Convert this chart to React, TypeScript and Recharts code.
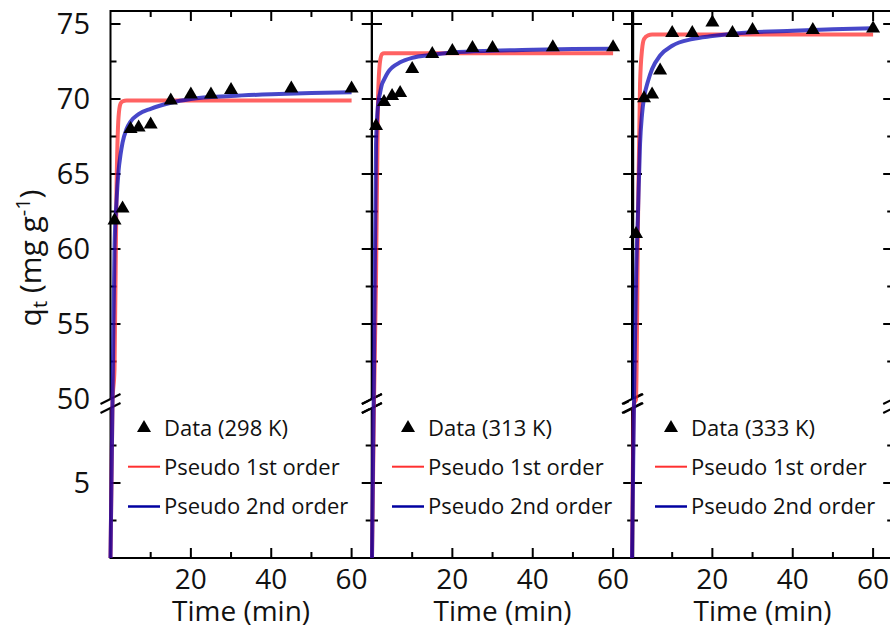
import React from "react";
import {
  ComposedChart,
  Line,
  Scatter,
  XAxis,
  YAxis,
  ZAxis,
  Legend,
  Symbols,
} from "recharts";

const FONT = "'Open Sans', 'Noto Sans', sans-serif";

// sampling times (min) and measured q_t (mg/g)
const obsTime = [1, 3, 5, 7, 10, 15, 20, 25, 30, 45, 60];
const obs298 = [61.9, 62.7, 68.0, 68.1, 68.3, 69.9, 70.3, 70.3, 70.6, 70.7, 70.7];
const obs313 = [68.2, 69.8, 70.2, 70.4, 72.0, 73.0, 73.2, 73.4, 73.4, 73.45, 73.45];
const obs333 = [61.0, 70.05, 70.3, 71.9, 74.4, 74.4, 75.1, 74.4, 74.6, 74.6, 74.7];

// fitted model curves
const fitTime = [0, 0.5, 1, 1.5, 2, 2.5, 3, 4, 5, 7, 10, 15, 20, 30, 40, 50, 60];
const pfo298 = [0, 35, 52, 64, 68.8, 69.7, 69.85, 69.9, 69.9, 69.9, 69.9, 69.9, 69.9, 69.9, 69.9, 69.9, 69.9];
const pso298 = [0, 45, 60, 63.2, 65.2, 66.3, 67.1, 68.0, 68.5, 69.0, 69.35, 69.75, 70.0, 70.2, 70.32, 70.4, 70.45];
const pfo313 = [0, 35, 58, 70, 72.5, 73.0, 73.05, 73.05, 73.05, 73.05, 73.05, 73.05, 73.05, 73.05, 73.05, 73.05, 73.05];
const pso313 = [0, 52, 67, 69.6, 70.4, 71.0, 71.3, 71.8, 72.1, 72.45, 72.75, 72.95, 73.1, 73.22, 73.28, 73.33, 73.36];
const pfo333 = [0, 30, 48, 62, 71, 73.3, 74.0, 74.25, 74.3, 74.3, 74.3, 74.3, 74.3, 74.3, 74.3, 74.3, 74.3];
const pso333 = [0, 42, 58, 62.5, 67, 69, 70.1, 71.2, 72.0, 72.9, 73.55, 74.0, 74.2, 74.45, 74.55, 74.65, 74.72];

const temps = ["298 K", "313 K", "333 K"];
const xTicks = [10, 20, 30, 40, 50, 60];
const xMajor = [20, 40, 60];
const yTicks = [2.5, 5, 7.5, 50, 52.5, 55, 57.5, 60, 62.5, 65, 67.5, 70, 72.5, 75];

// broken y axis: 0-10 below the break, 50-76 above it
const BREAK_LO = 10;
const BREAK_HI = 50;
const GAP = 0.6;
const Y_MAX = 75.87;
const toAxis = (v: number) =>
  v <= BREAK_LO
    ? v
    : v >= BREAK_HI
    ? v - BREAK_HI + BREAK_LO + GAP
    : BREAK_LO + ((v - BREAK_LO) / (BREAK_HI - BREAK_LO)) * GAP;
const yTickPos = yTicks.map(toAxis);

const RED = "#ff2626";
const BLUE = "#0000b4";
const LINE_OPACITY = 0.72;

const PANEL_X = [110.5, 371.7, 631.5];
const PANEL_W = 261.2;
const PLOT_TOP = 11;
const PLOT_BOTTOM = 558;
const CHART_H = 628;
const Y_AXIS_W = 110.5;
const PAD = 4;
const LEGEND_OFF = [17.5, 20, 23.5];
const X_DOMAIN = [0, 65];
const Y_DOMAIN = [0, toAxis(Y_MAX)];

// frame, inward ticks and axis-break marks of one panel (drawn under the chart)
function Frame({ plotLeft, width }: { plotLeft: number; width: number }) {
  const right = plotLeft + PANEL_W;
  const sx = (t: number) => plotLeft + ((t - X_DOMAIN[0]) / (X_DOMAIN[1] - X_DOMAIN[0])) * PANEL_W;
  const sy = (d: number) =>
    PLOT_BOTTOM - ((d - Y_DOMAIN[0]) / (Y_DOMAIN[1] - Y_DOMAIN[0])) * (PLOT_BOTTOM - PLOT_TOP);
  let d = "";
  xTicks.forEach((t) => {
    const len = xMajor.includes(t) ? 10 : 6;
    const x = sx(t);
    d += `M${x},${PLOT_BOTTOM}V${PLOT_BOTTOM - len}M${x},${PLOT_TOP}V${PLOT_TOP + len}`;
  });
  yTicks.forEach((v) => {
    if (v === BREAK_HI) return;
    const len = v % 5 === 0 ? 10 : 6;
    const y = sy(toAxis(v));
    d += `M${plotLeft},${y}H${plotLeft + len}M${right},${y}H${right - len}`;
  });
  const yb = sy(toAxis(BREAK_HI));
  const brk = (x: number) => (
    <g key={x}>
      <path
        d={`M${x - 3},${yb + 1.5}L${x + 3},${yb - 1.5}L${x + 3},${yb + 7.5}L${x - 3},${yb + 10.5}Z`}
        fill="#fff"
      />
      <path
        d={`M${x - 10},${yb + 5}L${x + 10},${yb - 5}M${x - 10},${yb + 14}L${x + 10},${yb + 4}`}
        stroke="#000"
        strokeWidth={2}
        fill="none"
      />
    </g>
  );
  return (
    <svg
      width={width}
      height={CHART_H}
      style={{ position: "absolute", left: 0, top: 0, overflow: "visible" }}
    >
      <path
        d={`M${plotLeft},${PLOT_TOP}H${right}V${PLOT_BOTTOM}H${plotLeft}Z`}
        fill="none"
        stroke="#000"
        strokeWidth={2}
      />
      <path d={d} fill="none" stroke="#000" strokeWidth={2} />
      {brk(plotLeft)}
      {brk(right)}
    </svg>
  );
}

function XLabel(props: any) {
  const { x, y, payload } = props;
  if (!xMajor.includes(payload.value)) return <g />;
  return (
    <text x={x} y={y + 31} textAnchor="middle" fontSize={28} fontFamily={FONT} fill="#111">
      {payload.value}
    </text>
  );
}

function YLabel(props: any) {
  const { x, y, payload } = props;
  const real = yTicks[yTickPos.indexOf(payload.value)];
  if (!(real % 5 === 0)) return <g />;
  return (
    <text x={x - 20.5} y={y + 10.4} textAnchor="end" fontSize={29} fontFamily={FONT} fill="#111">
      {real}
    </text>
  );
}

const yTitle = () => (
  <text
    transform="rotate(-90 41 258)"
    x={41}
    y={258}
    textAnchor="middle"
    fontSize={30}
    fontFamily={FONT}
    fill="#111"
  >
    q<tspan dy={6} fontSize={20}>t</tspan>
    <tspan dy={-6}> (mg g</tspan>
    <tspan dy={-11} fontSize={20}>-1</tspan>
    <tspan dy={11}>)</tspan>
  </text>
);

const xTitle = (p: any) => {
  const vb = p.viewBox || {};
  return (
    <text
      x={vb.x + vb.width / 2}
      y={vb.y + 63.5}
      textAnchor="middle"
      fontSize={28}
      fontFamily={FONT}
      fill="#111"
    >
      Time (min)
    </text>
  );
};

const LegendBox = ({ temp }: { temp: string }) => (
  <svg width={260} height={112} style={{ display: "block", overflow: "visible" }}>
    <Symbols cx={16} cy={17} type="triangle" size={85} fill="#000" />
    <text x={36} y={25} fontSize={22} fontFamily={FONT} fill="#111">
      Data ({temp})
    </text>
    <path d="M0,55.7H32" stroke="#ff3030" strokeWidth={2} />
    <text x={36} y={64} fontSize={22} fontFamily={FONT} fill="#111">
      Pseudo 1st order
    </text>
    <path d="M0,95.5H32" stroke="#0000a0" strokeWidth={2.5} />
    <text x={36} y={103} fontSize={22} fontFamily={FONT} fill="#111">
      Pseudo 2nd order
    </text>
  </svg>
);

const rows = (ts: number[], qs: number[]) => ts.map((t, i) => ({ t, q: toAxis(qs[i]) }));

function Panel({ idx, obs, pfo, pso }: { idx: number; obs: number[]; pfo: number[]; pso: number[] }) {
  const first = idx === 0;
  const yw = first ? Y_AXIS_W : 0;
  const padL = first ? 0 : PAD;
  const chartLeft = PANEL_X[idx] - yw - padL;
  const width = padL + yw + PANEL_W + PAD;

  return (
    <div style={{ position: "absolute", left: chartLeft, top: 0, width, height: CHART_H }}>
      <Frame plotLeft={padL + yw} width={width} />
      <div style={{ position: "absolute", left: 0, top: 0 }}>
        <ComposedChart
          width={width}
          height={CHART_H}
          margin={{ top: PLOT_TOP, right: PAD, bottom: 0, left: padL }}
        >
          <XAxis
            dataKey="t"
            type="number"
            domain={X_DOMAIN}
            ticks={xTicks}
            interval={0}
            height={CHART_H - PLOT_BOTTOM}
            tickSize={0}
            tickMargin={0}
            tickLine={false}
            axisLine={false}
            tick={<XLabel />}
            label={xTitle}
          />
          <YAxis
            type="number"
            domain={Y_DOMAIN}
            ticks={yTickPos}
            interval={0}
            width={yw}
            hide={!first}
            tickSize={0}
            tickMargin={0}
            tickLine={false}
            axisLine={false}
            tick={<YLabel />}
            label={first ? yTitle : undefined}
          />
          <ZAxis range={[85, 85]} />
          <Line
            data={rows(fitTime, pfo)}
            dataKey="q"
            type="monotone"
            stroke={RED}
            strokeOpacity={LINE_OPACITY}
            strokeWidth={4}
            dot={false}
            isAnimationActive={false}
            name="Pseudo 1st order"
          />
          <Line
            data={rows(fitTime, pso)}
            dataKey="q"
            type="monotone"
            stroke={BLUE}
            strokeOpacity={LINE_OPACITY}
            strokeWidth={4}
            dot={false}
            isAnimationActive={false}
            name="Pseudo 2nd order"
          />
          <Scatter
            data={rows(obsTime, obs)}
            dataKey="q"
            shape="triangle"
            fill="#000"
            isAnimationActive={false}
            name={`Data (${temps[idx]})`}
          />
          <Legend
            layout="vertical"
            align="center"
            verticalAlign="middle"
            wrapperStyle={{ left: PANEL_X[idx] + LEGEND_OFF[idx] - chartLeft, top: 411, width: 260, height: 112 }}
            content={() => <LegendBox temp={temps[idx]} />}
          />
        </ComposedChart>
      </div>
    </div>
  );
}

export default function App() {
  return (
    <div
      style={{
        position: "absolute",
        left: 0,
        top: 0,
        width: 890,
        height: 628,
        overflow: "hidden",
        background: "#fff",
        fontFamily: FONT,
      }}
    >
      <Panel idx={0} obs={obs298} pfo={pfo298} pso={pso298} />
      <Panel idx={1} obs={obs313} pfo={pfo313} pso={pso313} />
      <Panel idx={2} obs={obs333} pfo={pfo333} pso={pso333} />
    </div>
  );
}
